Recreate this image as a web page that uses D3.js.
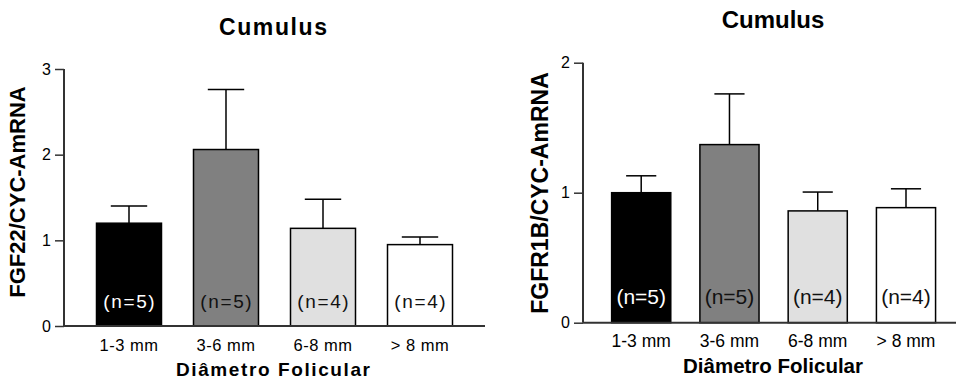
<!DOCTYPE html>
<html>
<head>
<meta charset="utf-8">
<script src="https://cdn.jsdelivr.net/npm/d3@7"></script>
<style>
  html, body { margin: 0; padding: 0; background: #fff; }
  svg { display: block; font-family: Arial, "Liberation Sans", sans-serif; }
</style>
</head>
<body>
<svg id="chart" width="956" height="379"></svg>
<script>
// Follicle diameter classes
const categories = ["1-3 mm", "3-6 mm", "6-8 mm", "> 8 mm"];
const sampleSizes = [5, 5, 4, 4];
const barFills = ["#000000", "#808080", "#e0e0e0", "#ffffff"];

// FGF22 / CYC-A mRNA in cumulus cells (mean and SEM)
const fgf22Mean = [1.20, 2.06, 1.14, 0.95];
const fgf22Sem  = [0.20, 0.70, 0.34, 0.09];
const fgf22Ticks = [0, 1, 2, 3];

// FGFR1B / CYC-A mRNA in cumulus cells (mean and SEM)
const fgfr1bMean = [1.00, 1.37, 0.86, 0.885];
const fgfr1bSem  = [0.13, 0.39, 0.145, 0.145];
const fgfr1bTicks = [0, 1, 2];

const svg = d3.select("#chart");

function panel(opts) {
  const g = svg.append("g");
  const x = d3.scaleBand().domain(categories)
    .range(opts.xRange).paddingInner(0.33).paddingOuter(0.5);
  const y = d3.scaleLinear().domain(opts.yDomain).range(opts.yRange);
  const ls = opts.spacing;

  const data = categories.map((c, i) => ({
    c, mean: opts.mean[i], sem: opts.sem[i], n: sampleSizes[i], fill: barFills[i]
  }));

  // error bars (drawn first so bar tops cover the stems)
  const capHalf = x.bandwidth() * opts.capFrac / 2;
  const eb = g.append("g").attr("stroke", "#000").attr("stroke-width", 1.5);
  data.forEach(d => {
    const cx = x(d.c) + x.bandwidth() / 2;
    eb.append("line").attr("x1", cx).attr("x2", cx)
      .attr("y1", y(d.mean)).attr("y2", y(d.mean + d.sem));
    eb.append("line").attr("x1", cx - capHalf).attr("x2", cx + capHalf)
      .attr("y1", y(d.mean + d.sem)).attr("y2", y(d.mean + d.sem));
  });

  // bars
  g.append("g").selectAll("rect").data(data).join("rect")
    .attr("x", d => x(d.c))
    .attr("y", d => y(d.mean))
    .attr("width", x.bandwidth())
    .attr("height", d => y(0) - y(d.mean))
    .attr("fill", d => d.fill)
    .attr("stroke", "#000")
    .attr("stroke-width", 1.5);

  // sample size labels
  g.append("g").selectAll("text").data(data).join("text")
    .attr("x", d => x(d.c) + x.bandwidth() / 2 + ls / 2)
    .attr("y", opts.nBaseline)
    .attr("text-anchor", "middle")
    .attr("font-size", opts.nSize)
    .attr("letter-spacing", ls)
    .attr("fill", d => d.fill === "#000000" ? "#fff" : "#111")
    .text(d => `(n=${d.n})`);

  // y axis
  const yAxis = g.append("g")
    .attr("transform", `translate(${opts.axisX},0)`)
    .call(d3.axisLeft(y).tickValues(opts.ticks).tickFormat(d3.format("d"))
      .tickSize(9).tickPadding(4));
  yAxis.select(".domain").attr("stroke", "#333").attr("stroke-width", 2)
    .attr("d", `M0,${y(opts.yDomain[1])}V${y(0)}`);
  yAxis.selectAll(".tick line").attr("stroke", "#333").attr("stroke-width", 1.5);
  yAxis.selectAll(".tick text").attr("font-size", 16).attr("fill", "#000")
    .attr("font-family", "Arial, 'Liberation Sans', sans-serif");

  // x baseline
  g.append("line").attr("x1", opts.axisX).attr("x2", opts.baseEnd)
    .attr("y1", y(0)).attr("y2", y(0))
    .attr("stroke", "#333").attr("stroke-width", 2);

  // category labels
  g.append("g").selectAll("text").data(data).join("text")
    .attr("x", d => x(d.c) + x.bandwidth() / 2)
    .attr("y", opts.catBaseline)
    .attr("text-anchor", "middle")
    .attr("font-size", opts.catSize)
    .attr("letter-spacing", ls / 3)
    .attr("fill", "#000")
    .text(d => d.c);

  // axis titles
  g.append("text")
    .attr("x", opts.xTitle[0] + ls / 2).attr("y", opts.xTitle[1])
    .attr("text-anchor", "middle").attr("font-weight", "bold")
    .attr("font-size", opts.xTitleSize).attr("letter-spacing", ls)
    .text("Diâmetro Folicular");

  g.append("text")
    .attr("transform", `translate(${opts.yTitle[0]},${opts.yTitle[1]}) rotate(-90)`)
    .attr("text-anchor", "middle").attr("font-weight", "bold")
    .attr("font-size", opts.yTitleSize)
    .text(opts.yLabel);

  g.append("text")
    .attr("x", opts.title[0] + ls / 2).attr("y", opts.title[1])
    .attr("text-anchor", "middle").attr("font-weight", "bold")
    .attr("font-size", opts.titleSize).attr("letter-spacing", ls)
    .text("Cumulus");
}

panel({
  mean: fgf22Mean, sem: fgf22Sem, ticks: fgf22Ticks,
  yDomain: [0, 3], yRange: [326, 69],
  xRange: [48, 501], axisX: 64, baseEnd: 485,
  capFrac: 0.56, spacing: 1.6,
  nSize: 19, nBaseline: 308,
  catSize: 16.5, catBaseline: 351,
  xTitle: [273, 376], xTitleSize: 19,
  yTitle: [25, 192], yTitleSize: 22, yLabel: "FGF22/CYC-AmRNA",
  title: [273, 35], titleSize: 23
});

panel({
  mean: fgfr1bMean, sem: fgfr1bSem, ticks: fgfr1bTicks,
  yDomain: [0, 2], yRange: [322.7, 62.7],
  xRange: [567.5, 979.7], axisX: 583, baseEnd: 956,
  capFrac: 0.51, spacing: 0,
  nSize: 21, nBaseline: 304,
  catSize: 17.5, catBaseline: 346.5,
  xTitle: [773, 373], xTitleSize: 20.5,
  yTitle: [548, 193], yTitleSize: 23, yLabel: "FGFR1B/CYC-AmRNA",
  title: [773, 28], titleSize: 24
});
</script>
</body>
</html>
